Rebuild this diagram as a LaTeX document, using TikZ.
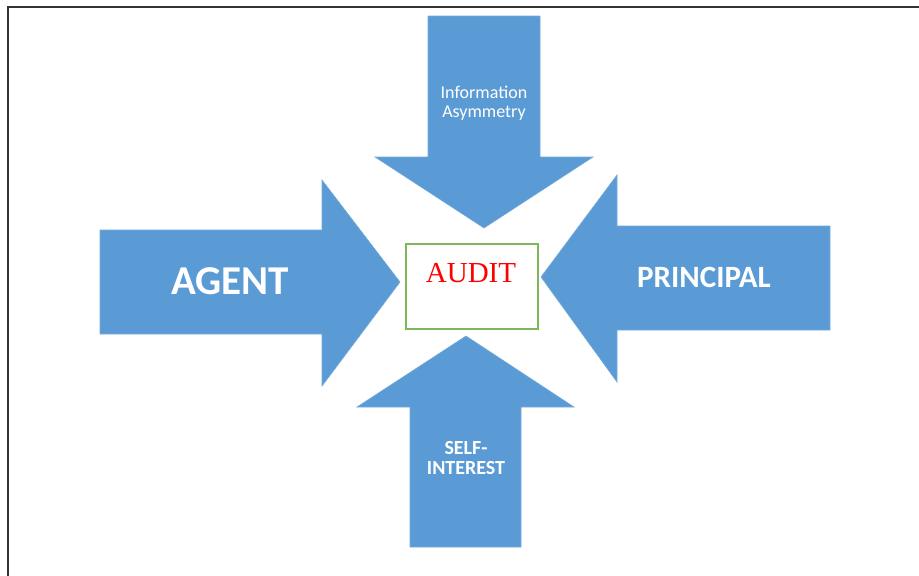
\documentclass[tikz,border=0pt]{standalone}
\usepackage{fontspec}
\setmainfont{Carlito}
\newfontfamily\timesfont{Liberation Serif}
\definecolor{arrowblue}{HTML}{5B9BD5}
\definecolor{boxgreen}{HTML}{7CB75A}
\definecolor{auditred}{HTML}{FF0000}
\tikzset{
  bigarrow/.style={fill=arrowblue, draw=arrowblue!85!white, line width=0.6pt},
  arrowlabel/.style={text=white, font=\bfseries, align=center, inner sep=0pt},
  framebox/.style={draw=black!80, line width=2pt}
}
\begin{document}
\begin{tikzpicture}[x=1pt,y=-1pt]
\useasboundingbox (0,0) rectangle (919,576);
% frame
\draw[framebox] (8,580) -- (8,7) -- (925,7);
% top arrow
\path[bigarrow] (428,16) -- (540,16) -- (540,157) -- (593,157) -- (484,228) -- (375,157) -- (428,157) -- cycle;
% left arrow
\path[bigarrow] (100,230) -- (322,230) -- (322,180) -- (400,282) -- (322,386) -- (322,334) -- (100,334) -- cycle;
% right arrow
\path[bigarrow] (830,226) -- (617,226) -- (617,175) -- (541,277) -- (617,382) -- (617,330) -- (830,330) -- cycle;
% bottom arrow
\path[bigarrow] (410,547) -- (410,407) -- (357,407) -- (466,336) -- (574,407) -- (521,407) -- (521,547) -- cycle;
% labels
\node[arrowlabel, font=\bfseries\fontsize{41}{41}\selectfont] (agent) at (230,281) {AGENT};
\node[arrowlabel, font=\bfseries\fontsize{31}{31}\selectfont] (principal) at (704,277) {PRINCIPAL};
\node[arrowlabel, font=\fontsize{18}{18.5}\selectfont] (info) at (484,103) {Information\\Asymmetry};
\node[arrowlabel, font=\bfseries\fontsize{20}{19.5}\selectfont] (self) at (466,458) {SELF-\\INTEREST};
% audit box
\node[draw=boxgreen, line width=1.2pt, fill=white, minimum width=132pt, minimum height=85pt, inner sep=0pt] (audit) at (472,286.5) {};
\node[text=auditred, font=\timesfont\fontsize{29}{29}\selectfont, inner sep=0pt] (audittext) at (471,273) {AUDIT};
\end{tikzpicture}
\end{document}
